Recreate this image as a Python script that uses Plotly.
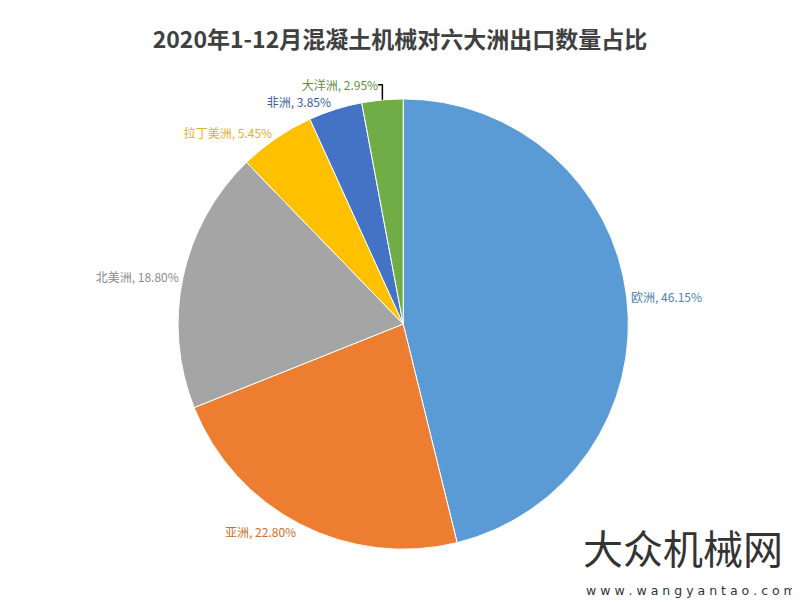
import plotly.graph_objects as go

regions = ["欧洲", "亚洲", "北美洲", "拉丁美洲", "非洲", "大洋洲"]
shares = [46.15, 22.80, 18.80, 5.45, 3.85, 2.95]
colors = ["#5B9BD5", "#ED7D31", "#A5A5A5", "#FFC000", "#4472C4", "#70AD47"]
label_colors = ["#4F81B0", "#C9702E", "#8C8C8C", "#E0B030", "#3A5FA0", "#5E9040"]
title_text = "2020年1-12月混凝土机械对六大洲出口数量占比"

fig = go.Figure(go.Pie(
    labels=regions,
    values=shares,
    sort=False,
    direction="clockwise",
    rotation=0,
    marker=dict(colors=colors, line=dict(color="white", width=1)),
    texttemplate="%{label}, %{value:.2f}%",
    textposition="outside",
    outsidetextfont=dict(color=label_colors, size=12, family="Noto Sans CJK SC"),
    showlegend=False,
    automargin=False,
    hole=0,
    domain=dict(x=[0.094, 0.894], y=[0.101, 0.849]),
))

fig.update_layout(
    width=800, height=602,
    margin=dict(l=0, r=0, t=0, b=0, autoexpand=False),
    paper_bgcolor="white",
    plot_bgcolor="white",
    title=dict(text="<b>" + title_text + "</b>", x=0.49, xanchor="center", y=0.947, yanchor="middle",
               font=dict(family="Noto Sans CJK SC", size=23, color="#404040")),
    annotations=[
        dict(text="大众机械网", x=0.716, y=0.105, xref="paper", yref="paper", xanchor="left", yanchor="middle",
             showarrow=False, font=dict(family="Noto Sans CJK SC", size=40, color="#333333")),
        dict(text="w w w . w a n g y a n t a o . c o m", x=0.72, y=0.033, xref="paper", yref="paper",
             xanchor="left", yanchor="middle", showarrow=False,
             font=dict(family="DejaVu Sans", size=12.5, color="#333333")),
    ],
)

fig.write_html("out.html")
